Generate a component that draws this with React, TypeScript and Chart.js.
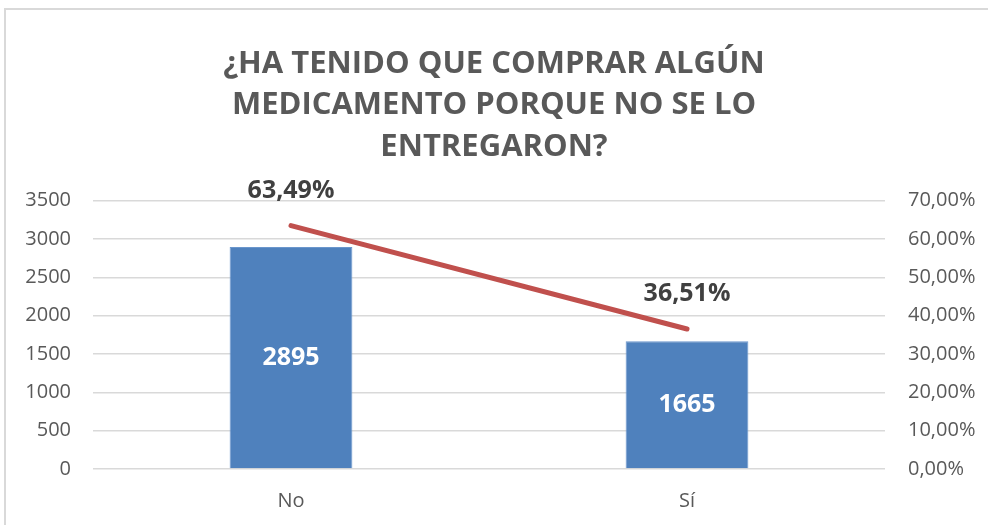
import React, { useEffect, useRef } from "react";
import { Chart, registerables } from "chart.js";

Chart.register(...registerables);

const categories = ["No", "Sí"];
const counts = [2895, 1665];
const percents = [63.49, 36.51];
const countTicks = [0, 500, 1000, 1500, 2000, 2500, 3000, 3500];
const percentTicks = [0, 10, 20, 30, 40, 50, 60, 70];
const titleLines = ["¿HA TENIDO QUE COMPRAR ALGÚN", "MEDICAMENTO PORQUE NO SE LO", "ENTREGARON?"];

const FONT = "'Open Sans', 'DejaVu Sans', sans-serif";

const labelPlugin = {
  id: "valueLabels",
  afterDatasetsDraw(chart: any) {
    const ctx = chart.ctx;
    ctx.save();
    ctx.textAlign = "center";
    ctx.textBaseline = "middle";
    const barMeta = chart.getDatasetMeta(1);
    ctx.font = `bold 25px ${FONT}`;
    ctx.fillStyle = "#FFFFFF";
    barMeta.data.forEach((el: any, i: number) => {
      const midY = (el.y + el.base) / 2;
      ctx.fillText(String(counts[i]), el.x, midY);
    });
    const lineMeta = chart.getDatasetMeta(0);
    ctx.fillStyle = "#404040";
    lineMeta.data.forEach((el: any, i: number) => {
      const txt = percents[i].toFixed(2).replace(".", ",") + "%";
      ctx.fillText(txt, el.x, el.y - 35);
    });
    ctx.restore();
  },
};

export default function App() {
  const ref = useRef<HTMLCanvasElement | null>(null);
  useEffect(() => {
    if (!ref.current) return;
    const chart = new Chart(ref.current, {
      type: "bar",
      data: {
        labels: categories,
        datasets: [
          {
            type: "line",
            label: "Porcentaje",
            data: percents,
            yAxisID: "y1",
            borderColor: "#C0504D",
            borderWidth: 5,
            borderCapStyle: "round",
            pointRadius: 0,
            order: 0,
          } as any,
          {
            type: "bar",
            label: "Cantidad",
            data: counts,
            yAxisID: "y",
            backgroundColor: "#4F81BD",
            borderColor: "#6A96CC",
            borderWidth: 1,
            barPercentage: 0.31,
            categoryPercentage: 1,
            order: 1,
          } as any,
        ],
      },
      options: {
        animation: false,
        responsive: false,
        maintainAspectRatio: false,
        layout: { padding: { top: 0, bottom: 0, left: 0, right: 0 } },
        plugins: {
          legend: { display: false },
          tooltip: { enabled: false },
          title: {
            display: true,
            text: titleLines,
            color: "#595959",
            font: { family: FONT, size: 31, weight: "bold", lineHeight: 1.34 },
            padding: { top: 43, bottom: 33 },
          },
        },
        scales: {
          x: {
            grid: { display: false, drawTicks: false },
            border: { display: false },
            ticks: { color: "#595959", font: { family: FONT, size: 20 }, padding: 20 },
            afterFit: (s: any) => {
              s.height = 56;
            },
          },
          y: {
            position: "left",
            min: 0,
            max: 3500,
            afterBuildTicks: (s: any) => {
              s.ticks = countTicks.map((v) => ({ value: v }));
            },
            grid: { color: "#D9D9D9", lineWidth: 1.5, drawTicks: false },
            border: { display: false },
            ticks: {
              color: "#595959",
              font: { family: FONT, size: 20 },
              padding: 22,
              callback: (v: any) => String(v),
            },
            afterFit: (s: any) => {
              s.width = 93;
            },
          },
          y1: {
            position: "right",
            min: 0,
            max: 70,
            afterBuildTicks: (s: any) => {
              s.ticks = percentTicks.map((v) => ({ value: v }));
            },
            grid: { display: false, drawTicks: false },
            border: { display: false },
            ticks: {
              color: "#595959",
              font: { family: FONT, size: 20 },
              padding: 23,
              callback: (v: any) => Number(v).toFixed(2).replace(".", ",") + "%",
            },
            afterFit: (s: any) => {
              s.width = 103;
            },
          },
        },
      } as any,
      plugins: [labelPlugin],
    });
    return () => chart.destroy();
  }, []);
  return (
    <div style={{ position: "absolute", left: 0, top: 0, width: 988, height: 525, background: "#fff", overflow: "hidden" }}>
      <div
        style={{
          position: "absolute",
          left: 4,
          top: 8,
          width: 1000,
          height: 600,
          border: "2px solid #D9D9D9",
          boxSizing: "border-box",
        }}
      />
      <canvas ref={ref} width={988} height={525} style={{ position: "absolute", left: 0, top: 0 }} />
    </div>
  );
}
